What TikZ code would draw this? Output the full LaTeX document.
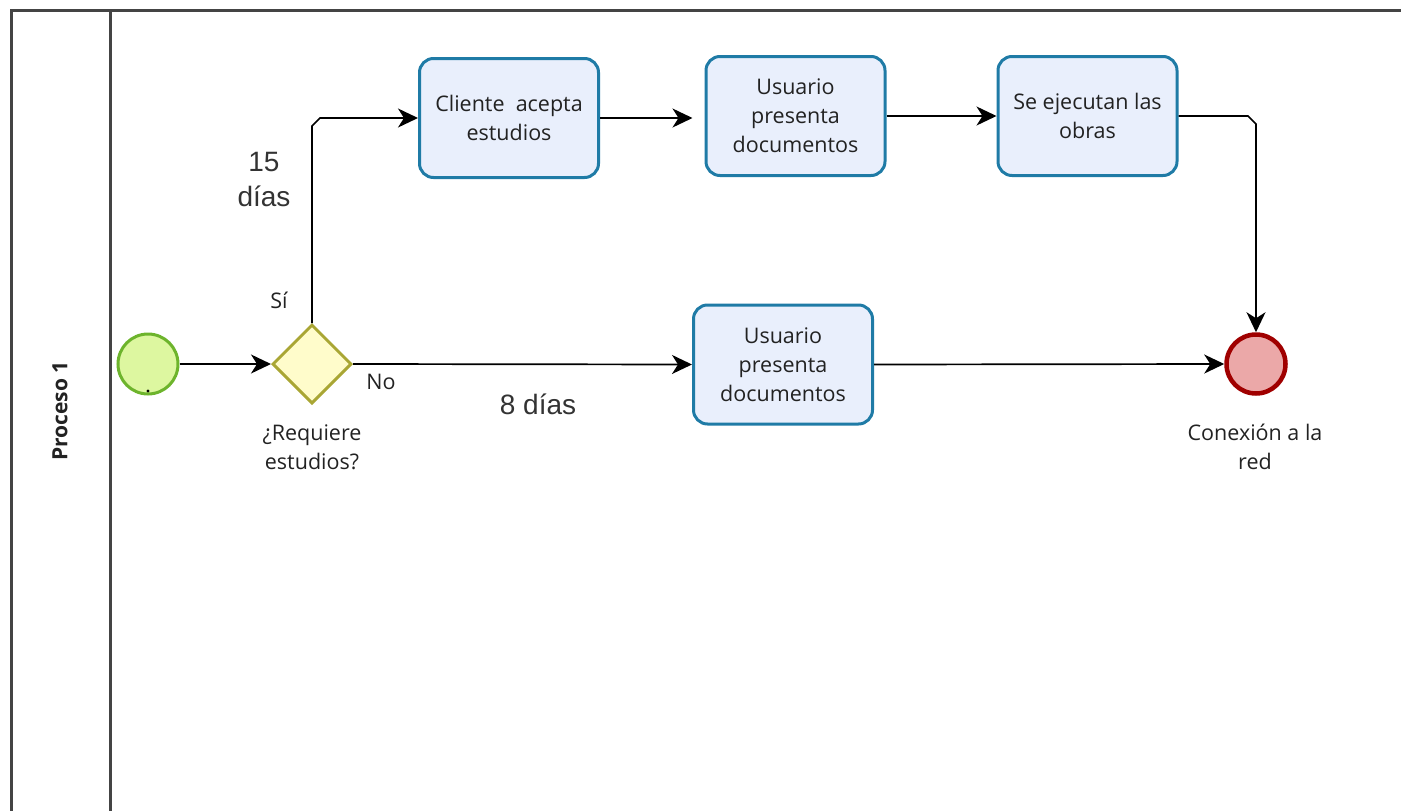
\documentclass[tikz,border=0pt]{standalone}
\usepackage{fontspec}
\setmainfont{Open Sans}
\newfontfamily\arialf{Liberation Sans}
\usetikzlibrary{shapes.geometric,arrows.meta,calc}
\definecolor{poolc}{HTML}{444444}
\definecolor{boxfill}{HTML}{E9EFFC}
\definecolor{boxdraw}{HTML}{1F7BA6}
\definecolor{stfill}{HTML}{DDF7A0}
\definecolor{stdraw}{HTML}{6DB42C}
\definecolor{gwfill}{HTML}{FFFCCB}
\definecolor{gwdraw}{HTML}{A9A634}
\definecolor{endfill}{HTML}{EBA8A8}
\definecolor{enddraw}{HTML}{A00000}
\definecolor{txt}{HTML}{222222}
\tikzset{
  txtfont/.style={font=\fontsize{21.5}{29}\selectfont, text=txt},
  task/.style={draw=boxdraw, fill=boxfill, line width=3pt, rounded corners=14pt,
    minimum width=179pt, minimum height=119pt, align=center, txtfont, inner sep=0pt},
  startev/.style={circle, draw=stdraw, fill=stfill, line width=3pt, minimum size=60pt, inner sep=0pt},
  endev/.style={circle, draw=enddraw, fill=endfill, line width=4.5pt, minimum size=59pt, inner sep=0pt},
  gateway/.style={diamond, draw=gwdraw, fill=gwfill, line width=3pt, minimum width=79pt, minimum height=79pt, inner sep=0pt},
  lbl/.style={align=center, txtfont, inner sep=0pt},
  biglbl/.style={align=center, font=\arialf\fontsize{28}{35}\selectfont, text=black!80, inner sep=0pt},
  flow/.style={line width=1.7pt, -{Stealth[length=20pt,width=19pt,inset=6pt]}},
  poolline/.style={draw=poolc, line width=3pt}
}
\begin{document}
\begin{tikzpicture}[x=1pt,y=-1pt]
\useasboundingbox (0,0) rectangle (1401,811);
% pool
\coordinate (ptl) at (11,10);
\coordinate (ptr) at (1401,10);
\coordinate (pbl) at (11,811);
\coordinate (stl) at (110,10);
\coordinate (sbl) at (110,811);
\draw[poolline] (pbl) -- (ptl) -- (ptr);
\draw[poolline] (stl) -- (sbl);
\node[rotate=90, font=\bfseries\fontsize{21}{24}\selectfont, text=txt] (lane) at (60,411) {Proceso 1};
% nodes
\node[startev] (start) at (148,364) {};
\fill[black] (148,391) circle (1.6pt);
\node[gateway] (gw) at (312,364) {};
\node[task] (cli) at (509,118) {Cliente\ \ acepta\\estudios};
\node[task] (u1) at (795.5,116) {Usuario\\presenta\\documentos};
\node[task] (obras) at (1087.5,116) {Se ejecutan las\\obras};
\node[task] (u2) at (783,364.5) {Usuario\\presenta\\documentos};
\node[endev] (end) at (1256,364) {};
% labels
\node[lbl] (si) at (279,300) {Sí};
\node[lbl] (no) at (381,382) {No};
\node[lbl] (gwl) at (312,447) {¿Requiere\\estudios?};
\node[lbl] (endl) at (1255,447) {Conexión a la\\red};
\node[biglbl] (d15) at (264,180) {15\\días};
\node[biglbl] (d8) at (538,404) {8 días};
% flows
\draw[flow] (start) -- (gw.west);
\draw[flow] (gw.north) -- ($(gw.north |- cli.west)+(0,8)$) -- ($(gw.north |- cli.west)+(8,0)$) -- (cli.west);
\draw[flow, shorten >=12pt] (cli.east) -- (cli.east -| u1.west);
\draw[flow] (u1.east) -- (obras.west);
\draw[flow] (obras.east) -- ($(obras.east -| end.north)+(-8,0)$) -- ($(obras.east -| end.north)+(0,8)$) -- (end.north);
\draw[flow] (gw.east) -- (u2.west);
\draw[flow] (u2.east) -- (end.west);
\end{tikzpicture}
\end{document}
